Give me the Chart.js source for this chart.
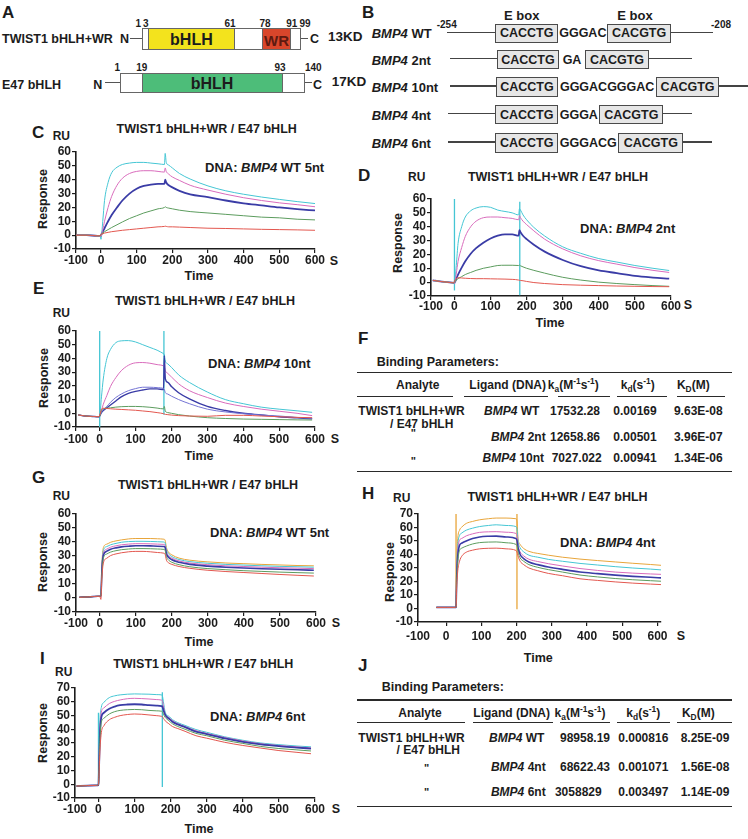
<!DOCTYPE html>
<html><head><meta charset="utf-8">
<script src="https://cdn.jsdelivr.net/npm/chart.js@4.4.1/dist/chart.umd.min.js"></script>
<style>
html,body{margin:0;padding:0;background:#fff}
body{position:relative;width:748px;height:839px;overflow:hidden;font-family:"Liberation Sans",Arial,Helvetica,sans-serif;color:#1c1c1c;font-weight:bold}
.t{position:absolute;white-space:nowrap;line-height:1}
.hl{position:absolute;background:#2a2a2a}
.box{position:absolute;box-sizing:border-box}
.plot{position:absolute}
sub,sup{font-size:0.7em;line-height:0}
</style></head><body>
<script>
// ---- panel A / B labels ----
const twistMarks = ['1','3','61','78','91','99'];
const e47Marks = ['1','19','93','140'];
const bRows = ['WT','2nt','10nt','4nt','6nt'];
const bSpacers = ['GGGAC','GA','GGGACGGGAC','GGGA','GGGACG'];
const eBox1 = 'CACCTG', eBox2 = 'CACGTG';

// ---- binding tables ----
const tableHead = ['Analyte','Ligand (DNA)','k<sub>a</sub>(M<sup>-1</sup>s<sup>-1</sup>)','k<sub>d</sub>(s<sup>-1</sup>)','K<sub>D</sub>(M)'];
const F_ligand = ['WT','2nt','10nt'];
const F_ka = ['17532.28','12658.86','7027.022'];
const F_kd = ['0.00169','0.00501','0.00941'];
const F_KD = ['9.63E-08','3.96E-07','1.34E-06'];
const J_ligand = ['WT','4nt','6nt'];
const J_ka = ['98958.19','68622.43','3058829'];
const J_kd = ['0.000816','0.001071','0.003497'];
const J_KD = ['8.25E-09','1.56E-08','1.14E-09'];

// ---- sensorgrams (time in s, response in RU) ----
const C_time = [-70,-40,-10,-2,0,5,10,20,30,45,60,80,100,120,140,160,178,180,183,190,200,220,250,300,350,400,450,500,550,600];
const C_cyan = [0,0,-0.5,-1,-3,10,25,38,45,49,51,52,52.5,52.5,52,51.5,51,59,52.5,50.5,48.5,44.5,40.5,35.5,32,29.5,27.5,25.8,24.2,22.8];
const C_magenta = [0,0,-0.5,-0.5,-1,4,10,20,28,36,41,44.5,46,46.5,46.5,46,45.5,48.5,46,44,42,39.5,36,32.5,29.5,27,25,23.3,22,20.5];
const C_blue = [0,0,-0.5,-0.5,0,2.5,5,10,14.5,20,25,30,33.5,35.5,36.5,37,37,40,38,36,34.5,32,29.5,27.5,25,23,21.5,20,18.8,17.8];
const C_green = [0,0,-0.5,-0.5,0.5,1.5,2.5,4,5.5,7.5,9.5,12,14,16,17.5,19,20,20.5,20,19.5,19,18,17,16,15,14,13,12.5,11.5,11];
const C_red = [0,0,-0.5,-0.5,0.5,1,1.5,2,2.5,3,3.5,4,4.5,5,5.5,6,6.3,6.5,6.3,6,6,5.8,5.5,5,4.8,4.5,4.2,4,3.8,3.5];

const D_time = [-60,-40,-20,-2,0,5,10,20,30,45,60,80,100,120,140,160,178,180,183,190,200,220,250,300,350,400,450,500,550,595];
const D_cyan = [1.3,0.5,0,-0.5,-1,12,28,40,47,51.5,53.5,54.5,54,52,51,50,48.5,53,52,48.5,45,39.5,33.3,25.5,20.8,17,14.5,12,10,8.4];
const D_magenta = [1.3,0.5,0,-0.5,-1,6,15,25,33,40,44,46.5,47,47,46.5,46,45,48,46.5,44,41.5,37,31,24,19,15.5,13,10.5,8.5,7];
const D_blue = [1.3,0.5,0,-0.5,-0.5,2.5,5.5,10.5,15,20.5,24.5,28.5,31.5,33.5,34.5,34.5,33.5,37.5,36,33.5,31,27,22,16,11.5,8.5,6.5,4.5,3.3,2.5];
const D_green = [1.3,0.5,0,-0.5,0,1.5,2.5,4,5.5,7,8.5,10,11,12,12.2,12.2,12,12.3,11.8,11,10,8.5,6.5,3.5,1.5,0,-1,-1.8,-2.5,-3];
const D_red = [1.3,0.5,0,-0.5,1,2.5,3.2,3,2.8,2.6,2.5,2.5,2.4,2.3,2.2,2,1.5,1.3,1.2,1,0.5,-0.3,-1,-1.8,-2.2,-2.5,-2.8,-3,-3.2,-3.3];

const E_time = [-60,-40,-20,-2,0,5,10,20,30,45,60,80,100,120,140,160,178,180,183,190,200,220,250,300,350,400,450,500,550,592];
const E_cyan = [-1.2,-2,-2.3,-2.5,-2,12,25,40,46.5,51.5,52.8,53,52,50,48,46,43.5,43,38,36,33.5,28,22.5,15.5,10,7,4.5,3,1.8,0.7];
const E_magenta = [-1.2,-2,-2.3,-2.5,-2,2,6.5,13,19.5,26,31,35,36.8,37,36.5,35.5,34.5,34,31,29,26.5,21.5,16.5,11.5,7.5,5,3,1.5,0,-1.7];
const E_violet = [-1.2,-2,-2.3,-2.5,-2,1,2.5,5,8,11.5,14,16.5,18,19,19,18.7,18,17.5,15,14,12.5,10,7,3,1,-0.3,-1.3,-2,-3,-3.7];
const E_navy = [-1.2,-2,-2.3,-2.5,-2,0.5,2,4,6,9,12,14.5,16,17,17.8,17.8,17.3,42,25,22.5,19.5,15,10.5,5,2,0,-1.2,-2.5,-3.3,-4];
const E_green = [-1.2,-2,-2.3,-2.5,-2,2,3.2,3.7,4,4.5,4.8,5,5,4.8,4.4,3.8,3.2,5,1.5,0.5,0,-1,-2,-3.2,-3.8,-4.2,-4.4,-4.6,-4.8,-4.9];
const E_red = [-1.2,-2,-2.3,-2.5,-1.5,3,3.7,3.5,3.3,3,2.8,2.5,2.2,1.7,1.2,0.5,-0.3,-0.5,-0.8,-1,-1.3,-1.7,-2,-2.2,-1.5,-1.5,-2,-2.5,-3,-3.2];

const G_time = [-57,-30,-5,0,3,6,10,20,30,45,60,80,100,120,140,160,178,181,185,190,200,220,250,300,350,400,450,500,550,594];
const G_orange = [0.5,0.8,1.2,1.2,1.5,25,36,38.5,39.8,40.8,41.5,42.2,42.5,42.5,42.5,42.3,42,41.5,36,33,30.8,28.5,27,25.8,25,24.5,24,23.6,23.2,23];
const G_cyan = [0.5,0.8,1.2,1.2,1.5,23,34,36.8,38,39,39.8,40.3,40.5,40.5,40.4,40.2,40,39.5,34.5,31.8,29.6,27.5,26,24.8,24,23.5,23,22.6,22.3,22];
const G_magenta = [0.5,0.8,1.2,1.2,1.5,21.5,32,35,36.3,37.3,38,38.5,38.8,38.8,38.7,38.5,38.3,37.8,33,30.5,28.5,26.5,25,23.8,23,22.5,22,21.6,21.3,21];
const G_blue = [0.5,0.8,1.2,1.2,1.5,20,30.5,33.5,34.8,35.8,36.5,37,37.3,37.3,37.2,37,36.8,36.3,31.5,29.3,27.3,25.5,24,22.8,22,21.4,20.9,20.5,20.2,19.8];
const G_green = [0.5,0.8,1.2,1.2,1.5,18,28.5,31.5,32.8,33.8,34.5,35,35.3,35.3,35.2,35,34.7,34.2,29.5,27.3,25.5,23.8,22.3,21,20.2,19.5,19,18.5,18.1,17.8];
const G_red = [0.5,0.8,1.2,1.2,-1,15,25,28.5,30.3,31.5,32.3,33,33.3,33.3,33,32.5,32,31.5,27,25.3,24,22.5,21.2,19.8,18.9,18.2,17.5,16.8,16.2,15.7];

const H_time = [-28,0,26,28,30,33,38,45,57,75,95,120,142,170,198,201,204,210,220,235,260,290,330,380,430,480,530,580,610];
const H_orange = [0.8,0.8,0.8,1,35,52,58,60.5,63,64.5,65.7,66.5,67,67,66.5,65,52,47.5,44.5,42.3,40.8,39.5,38,36.6,35.5,34.5,33.5,32.6,32];
const H_cyan = [0.8,0.8,0.8,1,30,47,54,56,58,59.5,60.7,61.5,62,61.5,60.7,59,50,45,42,39.5,38,36.4,35,33.4,32.2,31,30,29.2,28.6];
const H_magenta = [0.8,0.8,0.8,1,27,43,50.5,52,53.8,55.3,56.4,56.8,56.9,56.5,55.6,54,47,42,39,36.5,34.8,33.2,31.5,29.6,28.2,27,26.2,25.6,25.3];
const H_blue = [0.8,0.8,0.8,1,24,39,46.8,48.5,50,51.8,53,53.5,53.6,53,51.8,50.5,45,40,37,34.5,32.5,30.8,29,27,25.8,24.7,23.8,23.1,22.7];
const H_green = [0.8,0.8,0.8,1,21,35,43,44.8,46.2,47.8,48.8,49.2,49.3,48.7,47.5,46.5,42,37.5,35,32.5,30.5,28.8,27,24.8,23.4,22.2,21.3,20.6,20.2];
const H_red = [0.8,0.8,0.8,1,16,28,35,39,41.7,43.2,44.2,44.6,44.7,44.2,43,42,39,35,32.5,30,28,26,24.3,22,20.8,19.7,18.8,18.1,17.7];

const I_time = [-61,-30,-5,0,2,4,8,15,30,45,60,80,100,120,140,160,175,177,180,185,195,205,220,240,270,300,350,400,450,500,550,589];
const I_cyan = [-1.3,-1,-0.8,-0.5,20,45,56,59.5,63,64.3,65,65.5,65.7,65.6,65.5,65.2,65,64.5,60,52.4,49.5,47,44.8,42.8,39.8,37.8,34.5,32,30,28.8,27.8,27.2];
const I_magenta = [-1.3,-1,-0.8,-0.5,18,40,52.5,55.5,58.7,60.3,61.3,62.2,62.5,62.3,62,61.6,61.2,60.8,57,51,48.5,46.3,44,42,39,37,34,31.5,29.5,28.2,27.2,26.4];
const I_blue = [-1.3,-1,-0.8,-0.5,16,36,48.8,52,54.9,56.5,57.5,58,58.2,58,57.5,57.2,56.9,56.5,54,50.4,47.8,45.5,43.5,41.5,38.3,36.5,33.3,30.8,29,27.7,26.7,25.9];
const I_green = [-1.3,-1,-0.8,-0.5,14,32,45,48,51.1,52.8,53.7,54.2,54.4,54.2,53.7,53.4,53.1,52.8,51,48.6,46.2,44,42,40,37,35.3,32,29.7,27.5,26,25,24.2];
const I_red = [-1.3,-1,-0.8,-0.5,10,24,37.5,42.5,46.9,48.7,49.9,50.7,51.1,50.9,50.4,49.9,49.4,49.2,48,46.1,44,42,40.5,38.5,35.3,33.5,30.5,28.2,26.3,24.5,23.2,22.2];

// colours
const cyan = '#45c6d4', pink = '#d96cbc', blue = '#3a3ca6', green = '#5c9c5e', red = '#e3574f', orange = '#e8a53a', violet = '#7474d4';
const FONT = '"Liberation Sans", Arial, Helvetica, sans-serif';
const TITLE = 'TWIST1 bHLH+WR / E47 bHLH';
Chart.defaults.font.family = FONT;

function put(x, y, html, size, opt) {
  opt = opt || {};
  const d = document.createElement('div');
  d.className = 't';
  d.innerHTML = html;
  d.style.left = x + 'px';
  d.style.top = y + 'px';
  d.style.fontSize = size + 'px';
  let tr = opt.align === 'c' ? 'translate(-50%,-50%)' : 'translate(0,-50%)';
  if (opt.rot) tr += ' rotate(-90deg)';
  d.style.transform = tr;
  if (opt.weight) d.style.fontWeight = opt.weight;
  if (opt.color) d.style.color = opt.color;
  document.body.appendChild(d);
  return d;
}
function hline(x1, x2, y, w, color) {
  const d = document.createElement('div');
  d.className = 'hl';
  d.style.left = x1 + 'px';
  d.style.width = (x2 - x1) + 'px';
  d.style.top = (y - w / 2) + 'px';
  d.style.height = w + 'px';
  if (color) d.style.background = color;
  document.body.appendChild(d);
}
function rect(l, t, w, h, bg, bc, bw) {
  const d = document.createElement('div');
  d.className = 'box';
  Object.assign(d.style, {left: l + 'px', top: t + 'px', width: w + 'px', height: h + 'px',
    background: bg, border: (bw || 1.3) + 'px solid ' + bc});
  document.body.appendChild(d);
}

// ---------- A ----------
put(2, 12, 'A', 17);
put(2, 38.5, 'TWIST1 bHLH+WR', 12.5);
put(120, 38.5, 'N', 12.5);
hline(130, 141.7, 38.5, 1.5, '#555');
rect(141.7, 28.3, 159, 21.7, '#fff', '#666');
rect(147.7, 28.3, 87.3, 21.7, '#f3e31d', '#666');
rect(262, 28.3, 29, 21.7, '#d9462b', '#666');
put(191.4, 39.5, 'bHLH', 16, {align: 'c'});
put(276.5, 40, 'WR', 15, {align: 'c', color: '#5e1a10'});
hline(300.7, 308.3, 38.5, 1.5, '#555');
put(310, 39, 'C', 12.5);
put(328, 36.5, '13KD', 13.5);
const twistMarkX = [138.3, 145.7, 230, 265, 291.7, 305];
twistMarks.forEach((m, i) => put(twistMarkX[i], 24, m, 10, {align: 'c'}));

put(2, 85, 'E47 bHLH', 12.5);
put(93.3, 85, 'N', 12.5);
hline(105, 120, 82.7, 1.5, '#555');
rect(120, 72.7, 185, 20.6, '#fff', '#666');
rect(141.7, 72.7, 141, 20.6, '#4dbd79', '#666');
put(212, 83.5, 'bHLH', 16, {align: 'c'});
hline(305, 311.7, 82.7, 1.5, '#555');
put(313, 85, 'C', 12.5);
put(331.7, 81.7, '17KD', 13.5);
const e47MarkX = [117.3, 141.7, 280, 313.3];
e47Marks.forEach((m, i) => put(e47MarkX[i], 68.3, m, 10, {align: 'c'}));

// ---------- B ----------
put(362, 12, 'B', 17);
put(521.7, 15, 'E box', 13, {align: 'c'});
put(635, 15, 'E box', 13, {align: 'c'});
put(436.7, 25, '-254', 10);
put(721, 25, '-208', 10, {align: 'c'});
const bY = [33.3, 59.7, 87, 114.5, 143];
const bGeom = [ // line start, box1 l, box1 r, box2 l, box2 r, line end
  [446.7, 495, 558.3, 607.3, 671, 713.3],
  [450, 497, 559, 585, 649, 691.7],
  [450, 495.7, 558.3, 656, 719, 748],
  [448, 495, 558.3, 599.3, 663.3, 691.7],
  [448, 495, 558.3, 618.3, 683.3, 711.7]];
bRows.forEach((name, i) => {
  const y = bY[i], g = bGeom[i];
  put(371.7, y, '<i>BMP4</i> ' + name, 13);
  hline(g[0], g[1], y - 1, 1.5, '#444');
  hline(g[4], g[5], y - 1, 1.5, '#444');
  rect(g[1], y - 9.7, g[2] - g[1], 19.4, '#e6e6e6', '#4a4a4a', 1.5);
  rect(g[3], y - 9.7, g[4] - g[3], 19.4, '#e6e6e6', '#4a4a4a', 1.5);
  put((g[1] + g[2]) / 2, y, eBox1, 12.5, {align: 'c'});
  put((g[2] + g[3]) / 2, y, bSpacers[i], 12.5, {align: 'c'});
  put((g[3] + g[4]) / 2, y, eBox2, 12.5, {align: 'c'});
});

// ---------- tables F / J ----------
function bindingTable(t) {
  put(358, t.letterY, t.letter, 17);
  put(t.capX, t.capY, 'Binding Parameters:', 12.5);
  hline(357, 731.7, t.top, 1.6);
  tableHead.forEach((h, i) => put(t.headX[i], t.headY, h, 12, {align: 'c'}));
  t.segs.forEach(s => hline(s[0], s[1], t.segY, 1.3));
  put(411.5, t.rowY[0], 'TWIST1 bHLH+WR', 12, {align: 'c'});
  put(t.e47X, t.e47Y, '/ E47 bHLH', 12, {align: 'c'});
  put(t.dittoX, t.dittoY[0], '"', 11, {align: 'c'});
  put(t.dittoX, t.dittoY[1], '"', 11, {align: 'c'});
  t.ligand.forEach((v, i) => {
    put(t.ligX[i], t.rowY[i], '<i>BMP4</i> ' + v, 12, {align: 'c'});
    put(t.kaX[i], t.rowY[i], t.ka[i], 12, {align: 'c'});
    put(t.kdX, t.rowY[i], t.kd[i], 12, {align: 'c'});
    put(t.KDX, t.rowY[i], t.KD[i], 12, {align: 'c'});
  });
  hline(357, 731.7, t.bottom, 1.6);
}
bindingTable({letter: 'F', letterY: 338, capX: 376.7, capY: 361.7, top: 372.7, headY: 385,
  headX: [417.7, 507.7, 573.3, 637.7, 693.3], segY: 396.7,
  segs: [[357, 453.3], [464.3, 547.7], [558.3, 610], [616.7, 666.7], [676.7, 725]],
  rowY: [411, 436.7, 457.7], e47X: 421.7, e47Y: 424.3, dittoX: 413.3, dittoY: [433, 461],
  ligand: F_ligand, ka: F_ka, kd: F_kd, KD: F_KD,
  ligX: [511.7, 518.3, 513.3], kaX: [575, 575, 576.7], kdX: 635, KDX: 698.3, bottom: 471.7});
bindingTable({letter: 'J', letterY: 665, capX: 381.7, capY: 686.7, top: 700, headY: 713.3,
  headX: [420, 511.7, 580, 643.3, 698.3], segY: 722.3,
  segs: [[357, 465], [473.3, 553.3], [560, 610], [616.7, 670], [676.7, 731.7]],
  rowY: [737.7, 766.7, 791.7], e47X: 428.3, e47Y: 750, dittoX: 426.7, dittoY: [768, 792],
  ligand: J_ligand, ka: J_ka, kd: J_kd, KD: J_KD,
  ligX: [516.7, 518.3, 518.3], kaX: [585, 585, 578.3], kdX: 643.3, KDX: 705, bottom: 806.7});

// ---------- sensorgrams ----------
function sensorgram(box, xMin, xMax, yMax, times, lines, marks, labPad) {
  const W = 34, padT = 9, padR = 18, H = 26;
  const l = Math.round(box[0]), t = Math.round(box[1]), r = Math.round(box[2]), b = Math.round(box[3]);
  const cw = r - l + W + padR, ch = b - t + padT + H;
  const wrap = document.createElement('div');
  wrap.className = 'plot';
  wrap.style.left = (l - W) + 'px';
  wrap.style.top = (t - padT) + 'px';
  wrap.style.width = cw + 'px';
  wrap.style.height = ch + 'px';
  const cv = document.createElement('canvas');
  cv.width = cw; cv.height = ch;
  wrap.appendChild(cv);
  document.body.appendChild(wrap);

  const datasets = lines.map(s => ({
    data: times.map((x, i) => ({x: x, y: s[1][i]})),
    borderColor: s[0], borderWidth: s[2] || 1, pointRadius: 0,
    cubicInterpolationMode: 'monotone', fill: false
  }));
  (marks || []).forEach(m => datasets.push({
    data: [{x: m[1], y: m[2]}, {x: m[1], y: m[3]}],
    borderColor: m[0], borderWidth: 1.3, pointRadius: 0, tension: 0, fill: false
  }));
  const xt = [xMin, 0, 100, 200, 300, 400, 500, 600];
  const tickFont = {family: FONT, size: 12, weight: 'bold'};
  const axisCol = '#1c1c1c';
  new Chart(cv, {
    type: 'line',
    data: {datasets: datasets},
    options: {
      responsive: false, animation: false, devicePixelRatio: 1,
      layout: {padding: {left: 0, top: padT, right: padR, bottom: 0}},
      plugins: {legend: {display: false}, tooltip: {enabled: false}},
      scales: {
        x: {type: 'linear', min: xMin, max: xMax,
          afterBuildTicks: s => { s.ticks = xt.map(v => ({value: v})); },
          afterFit: s => { s.height = H; },
          ticks: {callback: v => (v === xMin ? '-100' : v), font: tickFont, color: axisCol,
            padding: labPad, maxRotation: 0, autoSkip: false},
          grid: {drawOnChartArea: false, tickLength: 4, color: axisCol, lineWidth: 1.2},
          border: {color: axisCol, width: 1.6}},
        y: {type: 'linear', min: -10, max: yMax,
          afterFit: s => { s.width = W; },
          ticks: {stepSize: 10, autoSkip: false, font: tickFont, color: axisCol, padding: 1},
          grid: {drawOnChartArea: false, tickLength: 4, color: axisCol, lineWidth: 1.2},
          border: {color: axisCol, width: 1.6}}
      }
    }
  });
}
function frame(p) {
  put(p.letter[1], p.letter[2], p.letter[0], 17);
  put(p.title[0], p.title[1], TITLE, 12.5, {align: 'c'});
  put(p.ru[0], p.ru[1], 'RU', 12);
  put(p.resp[0], p.resp[1], 'Response', 12.5, {align: 'c', rot: true});
  put(p.time[0], p.time[1], 'Time', 12.5, {align: 'c'});
  put(p.s[0], p.s[1], 'S', 12.5, {align: 'c'});
  put(p.dna[0], p.dna[1], p.dna[2], 13);
}

// C
frame({letter: ['C', 32, 131.5], title: [206.7, 129], ru: [52.7, 135.7], resp: [43.3, 199],
  time: [199, 276], s: [334, 260.7], dna: [205, 166.7, 'DNA: <i>BMP4</i> WT 5nt']});
sensorgram([75.7, 151.7, 315.3, 249.3], -70, 600, 60, C_time,
  [[red, C_red], [green, C_green], [pink, C_magenta], [cyan, C_cyan], [blue, C_blue, 1.8]], [], 0);

// D
frame({letter: ['D', 358, 175], title: [558, 176.7], ru: [408, 176.7], resp: [398.3, 243],
  time: [550, 322.7], s: [688, 305], dna: [580, 228.3, 'DNA: <i>BMP4</i> 2nt']});
sensorgram([431, 199.3, 671, 296], -65, 600, 60, D_time,
  [[red, D_red], [green, D_green], [pink, D_magenta], [cyan, D_cyan], [blue, D_blue, 1.8]],
  [[cyan, 0, -6, 60], [cyan, 181, -9.4, 58]], -1);

// E
frame({letter: ['E', 33, 288.3], title: [205, 300.7], ru: [52.7, 313.3], resp: [44.3, 378.3],
  time: [199, 455.7], s: [335, 439.3], dna: [208, 362.7, 'DNA: <i>BMP4</i> 10nt']});
sensorgram([76, 330.7, 315, 426.7], -66, 600, 60, E_time,
  [[red, E_red], [green, E_green], [violet, E_violet], [blue, E_navy, 1.4], [pink, E_magenta], [cyan, E_cyan]],
  [[cyan, 0, -10, 60], [cyan, 179, -1, 60]], 1.4);

// G
frame({letter: ['G', 32, 477.3], title: [208, 485], ru: [52.7, 496], resp: [43.3, 561.7],
  time: [199, 641.7], s: [336, 623.3], dna: [210, 532.3, 'DNA: <i>BMP4</i> WT 5nt']});
sensorgram([76, 514, 316, 611.7], -66, 600, 60, G_time,
  [[red, G_red], [green, G_green], [blue, G_blue, 1.6], [pink, G_magenta], [cyan, G_cyan], [orange, G_orange]], [], 0.4);

// H
frame({letter: ['H', 362, 493], title: [557.5, 496.7], ru: [393, 498.3], resp: [390, 571.7],
  time: [538.3, 658.3], s: [681, 635.7], dna: [560, 541.7, 'DNA: <i>BMP4</i> 4nt']});
sensorgram([417.7, 514, 661, 621.5], -80, 610, 70, H_time,
  [[red, H_red], [green, H_green], [blue, H_blue, 1.6], [pink, H_magenta], [cyan, H_cyan], [orange, H_orange]],
  [[orange, 28, 0.8, 72], [orange, 201, -0.5, 72]], 3);

// I
frame({letter: ['I', 40, 658.3], title: [203.3, 664.3], ru: [55, 672.3], resp: [43.3, 733.3],
  time: [199, 829.3], s: [336, 809], dna: [210, 715.7, 'DNA: <i>BMP4</i> 6nt']});
sensorgram([75, 688.3, 315, 797.7], -65, 600, 70, I_time,
  [[red, I_red], [green, I_green], [blue, I_blue, 1.8], [pink, I_magenta], [cyan, I_cyan]],
  [[cyan, 0, -1, 52], [cyan, 177, -2, 67]], 0);
</script>
</body></html>
